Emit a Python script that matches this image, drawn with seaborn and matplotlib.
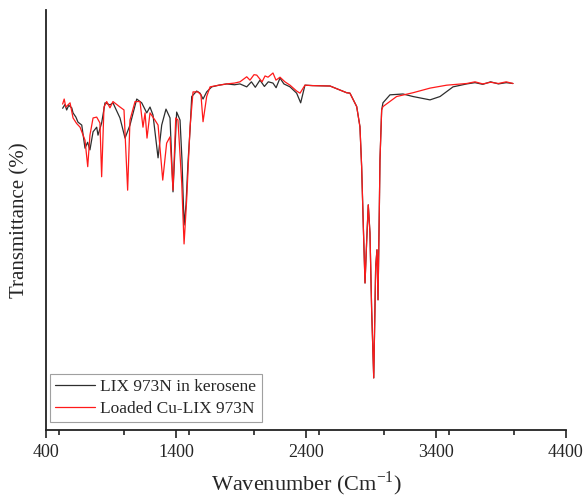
import matplotlib
matplotlib.use("Agg")
import matplotlib.pyplot as plt
from matplotlib.ticker import MultipleLocator
import pandas as pd
import seaborn as sns

# FTIR spectra: wavenumber (cm-1) and transmittance (arbitrary %, no y scale shown)
wn_free = [528, 546, 559, 575, 598, 608, 630, 646, 675, 700, 720, 738, 762, 790, 800, 828,
           854, 892, 915, 969, 1008, 1046, 1098, 1136, 1175, 1200, 1223, 1262, 1290, 1323,
           1354, 1377, 1405, 1431, 1446, 1462, 1477, 1492, 1508, 1521, 1559, 1585, 1608,
           1636, 1675, 1730, 1790, 1850, 1892, 1944, 1980, 2010, 2046, 2080, 2110, 2146,
           2170, 2200, 2230, 2277, 2328, 2359, 2392, 2450, 2585, 2713, 2738, 2790, 2815,
           2828, 2841, 2854, 2867, 2879, 2892, 2905, 2921, 2936, 2946, 2954, 2964, 2969,
           2982, 2992, 3046, 3146, 3223, 3354, 3431, 3531, 3636, 3700, 3760, 3820, 3880,
           3940, 3992]
t_free = [76.6, 77.5, 76.2, 77.3, 76.7, 75.5, 74.5, 73.3, 72.6, 67.1, 68.5, 66.7, 71.0, 72.1,
          70.2, 73.1, 77.9, 77.4, 77.9, 74.3, 69.5, 72.6, 78.8, 77.9, 75.5, 76.9, 75.0,
          64.8, 72.6, 76.4, 74.3, 56.7, 75.7, 73.8, 64.3, 48.8, 53.6, 63.6, 71.4, 79.4,
          80.7, 80.2, 78.8, 80.5, 81.7, 82.1, 82.4, 82.2, 82.4, 81.7, 82.9, 81.6, 83.3,
          81.8, 82.9, 82.6, 81.5, 83.8, 82.4, 81.7, 80.2, 77.9, 82.1, 82.0, 81.9, 80.3,
          80.2, 77.0, 72.2, 62.7, 48.4, 35.0, 45.2, 53.6, 46.9, 28.6, 12.4, 38.9, 42.9,
          31.0, 52.4, 64.3, 76.2, 77.9, 79.8, 80.0, 79.4, 78.6, 79.4, 81.7, 82.4, 82.7,
          82.3, 82.9, 82.4, 82.7, 82.5]

wn_cu = [528, 540, 552, 569, 585, 608, 635, 662, 700, 721, 738, 762, 790, 815, 828, 846,
         867, 892, 915, 969, 1000, 1028, 1046, 1085, 1123, 1146, 1162, 1177, 1200, 1238,
         1262, 1298, 1328, 1354, 1377, 1398, 1415, 1444, 1462, 1482, 1508, 1531, 1569,
         1592, 1608, 1636, 1662, 1730, 1790, 1850, 1892, 1944, 1969, 2000, 2021, 2062,
         2085, 2108, 2146, 2169, 2200, 2238, 2277, 2328, 2354, 2392, 2450, 2585, 2713,
         2738, 2790, 2815, 2828, 2841, 2854, 2867, 2879, 2892, 2905, 2921, 2936, 2946,
         2954, 2964, 2969, 2982, 2992, 3097, 3223, 3354, 3482, 3636, 3700, 3760, 3820,
         3880, 3940, 3992]
t_cu = [77.6, 78.8, 76.9, 77.4, 77.9, 74.3, 73.0, 72.1, 69.0, 62.7, 70.2, 74.3, 74.5, 73.1,
        60.3, 76.9, 78.2, 76.7, 78.2, 76.9, 76.2, 57.1, 73.8, 78.2, 78.2, 72.1, 75.5,
        69.5, 75.5, 73.8, 72.6, 59.5, 68.3, 69.8, 57.1, 74.3, 73.8, 58.8, 44.3, 54.8,
        72.1, 80.5, 80.5, 79.8, 73.4, 79.4, 81.7, 82.1, 82.4, 82.6, 82.9, 84.1, 83.3,
        84.6, 84.5, 82.9, 84.3, 84.0, 85.0, 83.3, 84.0, 82.9, 82.1, 80.7, 80.2, 82.1,
        82.0, 81.9, 80.3, 80.2, 77.0, 72.2, 62.7, 48.4, 35.0, 45.2, 53.6, 46.9, 28.6,
        12.4, 38.9, 42.9, 31.0, 52.4, 64.3, 76.2, 77.0, 79.4, 80.3, 81.4, 82.1, 82.5,
        82.9, 82.4, 82.8, 82.5, 82.9, 82.5]

series_names = ["LIX 973N in kerosene", "Loaded Cu-LIX 973N"]
x_ticks = [400, 1400, 2400, 3400, 4400]

df = pd.concat([
    pd.DataFrame({"wn": wn_free, "T": t_free, "sample": series_names[0]}),
    pd.DataFrame({"wn": wn_cu, "T": t_cu, "sample": series_names[1]}),
], ignore_index=True)

sns.set_style("ticks")
plt.rcParams["font.family"] = ["Liberation Serif", "DejaVu Serif"]
plt.rcParams["mathtext.fontset"] = "custom"
plt.rcParams["mathtext.rm"] = "Liberation Serif"

fig = plt.figure(figsize=(5.87, 4.99), dpi=100)
ax = fig.add_axes([46 / 587, 1 - 430 / 499, 520 / 587, 420 / 499])

sns.lineplot(data=df, x="wn", y="T", hue="sample", sort=False, estimator=None,
             palette={series_names[0]: "#2e2e2e", series_names[1]: "#ff1a1a"},
             linewidth=0.9, ax=ax)

ax.set_xlim(400, 4400)
ax.set_ylim(0, 100)
ax.set_xticks(x_ticks)
ax.set_xticklabels([str(v) for v in x_ticks])
ax.xaxis.set_minor_locator(MultipleLocator(500))
ax.set_yticks([])
ax.tick_params(axis="x", which="major", direction="out", length=6, width=1.2,
               labelsize=13, pad=4, color="#222222")
ax.tick_params(axis="x", which="minor", direction="out", length=3.5, width=1.2,
               color="#222222")

for side in ("top", "right"):
    ax.spines[side].set_visible(False)
for side in ("left", "bottom"):
    ax.spines[side].set_linewidth(1.3)
    ax.spines[side].set_color("#222222")

ax.set_xlabel(r"Wavenumber (Cm$^{\mathregular{-1}}$)", fontsize=16, labelpad=6)
ax.set_ylabel("Transmittance (%)", fontsize=15, labelpad=12)

leg = ax.legend(loc="lower left", bbox_to_anchor=(4 / 520, 8 / 420), fontsize=12.5,
                frameon=True, fancybox=False, borderpad=0.3, handlelength=2.3,
                handletextpad=0.3, labelspacing=0.3, borderaxespad=0)
leg.get_frame().set_edgecolor("#888888")
leg.get_frame().set_linewidth(0.8)
leg.set_title(None)

fig.savefig("out.png", dpi=100)
